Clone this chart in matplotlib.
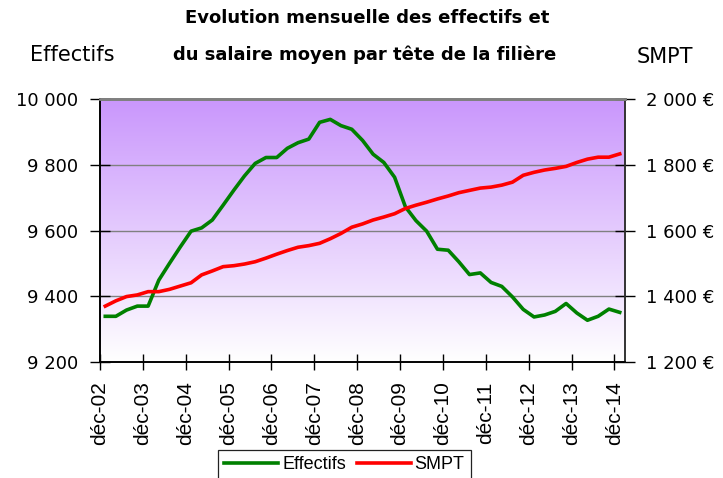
import numpy as np
import pandas as pd
import matplotlib
matplotlib.use("Agg")
import matplotlib.pyplot as plt
import matplotlib.dates as mdates
from matplotlib.ticker import FuncFormatter, FixedLocator

# Série trimestrielle (déc-02 -> déc-14)
dates = pd.date_range("2003-01-01", periods=49, freq="3MS") + pd.Timedelta(days=14)

effectifs = [9339, 9339, 9358, 9370, 9370, 9449, 9500, 9550, 9598, 9608,
             9632, 9677, 9723, 9766, 9804, 9822, 9822, 9850, 9867, 9878,
             9929, 9938, 9919, 9908, 9874, 9832, 9807, 9762, 9672, 9630,
             9598, 9543, 9540, 9505, 9466, 9471, 9442, 9430, 9398, 9360,
             9337, 9343, 9354, 9378, 9349, 9327, 9339, 9361, 9351]

smpt = [1370, 1386, 1399, 1404, 1414, 1414, 1421, 1431, 1441, 1465,
        1477, 1490, 1493, 1498, 1505, 1516, 1528, 1539, 1549, 1554,
        1561, 1575, 1591, 1610, 1620, 1632, 1641, 1651, 1667, 1677,
        1686, 1696, 1705, 1715, 1722, 1729, 1732, 1738, 1747, 1768,
        1777, 1784, 1789, 1795, 1807, 1817, 1823, 1823, 1833]

tick_dates = pd.date_range("2002-12-01", "2014-12-01", freq="12MS")
tick_labels = [f"déc-{d:%y}" for d in tick_dates]

left_ticks = [9200, 9400, 9600, 9800, 10000]
right_ticks = [1200, 1400, 1600, 1800, 2000]

plt.rcParams["font.family"] = "DejaVu Sans"

fig = plt.figure(figsize=(7.23, 4.78), dpi=100)
ax = fig.add_axes([100 / 723, 1 - 362 / 478, 525 / 723, 263 / 478])
ax2 = ax.twinx()

# fond dégradé violet (haut) -> blanc (bas)
grad = np.linspace(0, 1, 256).reshape(-1, 1)
top = np.array([0.79, 0.59, 0.99])
bot = np.array([1.0, 1.0, 1.0])
img = top[None, None, :] * (1 - grad[..., None]) + bot[None, None, :] * grad[..., None]
ax.imshow(img, extent=[0, 1, 0, 1], origin="upper", transform=ax.transAxes,
          aspect="auto", zorder=0, interpolation="bilinear")

ax.plot(dates, effectifs, color="#008000", lw=2.6, label="Effectifs", zorder=3,
        solid_joinstyle="round")
ax2.plot(dates, smpt, color="#FF0000", lw=2.6, label="SMPT", zorder=3,
         solid_joinstyle="round")

ax.set_xlim(pd.Timestamp("2002-12-01"), pd.Timestamp("2015-03-01"))
ax.set_ylim(9200, 10000)
ax2.set_ylim(1200, 2000)

ax.xaxis.set_major_locator(FixedLocator(mdates.date2num(tick_dates)))
ax.set_xticklabels(tick_labels, rotation=90, family="Liberation Sans", fontsize=15)

ax.yaxis.set_major_locator(FixedLocator(left_ticks))
ax2.yaxis.set_major_locator(FixedLocator(right_ticks))
ax.yaxis.set_major_formatter(FuncFormatter(lambda v, p: f"{v:,.0f}".replace(",", " ")))
ax2.yaxis.set_major_formatter(FuncFormatter(lambda v, p: f"{v:,.0f} €".replace(",", " ")))

ax.tick_params(axis="y", direction="inout", length=14, width=1, labelsize=13, pad=9)
ax2.tick_params(axis="y", direction="inout", length=14, width=1, labelsize=13, pad=8)
ax.tick_params(axis="x", direction="inout", length=12, width=1, pad=8)

ax.grid(axis="y", color="#808080", lw=1)
ax.set_axisbelow(False)
for a in (ax, ax2):
    a.spines["top"].set_color("#808080")
    a.spines["top"].set_linewidth(2)
    a.spines["left"].set_linewidth(1.2)
    a.spines["bottom"].set_linewidth(1.2)
    a.spines["right"].set_linewidth(1.2)
    a.spines["right"].set_color("#333333")

# titres
fig.text(367 / 723, 1 - 18 / 478, "Evolution mensuelle des effectifs et",
         ha="center", va="center", fontsize=13, fontweight="bold")
fig.text(365 / 723, 1 - 55 / 478, "du salaire moyen par tête de la filière",
         ha="center", va="center", fontsize=13, fontweight="bold")
fig.text(72 / 723, 1 - 55 / 478, "Effectifs", ha="center", va="center", fontsize=15)
fig.text(665 / 723, 1 - 57 / 478, "SMPT", ha="center", va="center", fontsize=15)

handles = ax.get_lines()[:1] + ax2.get_lines()[:1]
leg = fig.legend(handles, [h.get_label() for h in handles], ncol=2,
                 loc="upper left", bbox_to_anchor=(218 / 723, 1 - 450 / 478),
                 bbox_transform=fig.transFigure, fancybox=False, framealpha=1,
                 edgecolor="#222222", handlelength=3.0, handletextpad=0.2,
                 columnspacing=0.6, borderpad=0.35, borderaxespad=0,
                 prop={"family": "Liberation Sans", "size": 13})
leg.get_frame().set_linewidth(0.9)

fig.savefig("out.png", dpi=100)
